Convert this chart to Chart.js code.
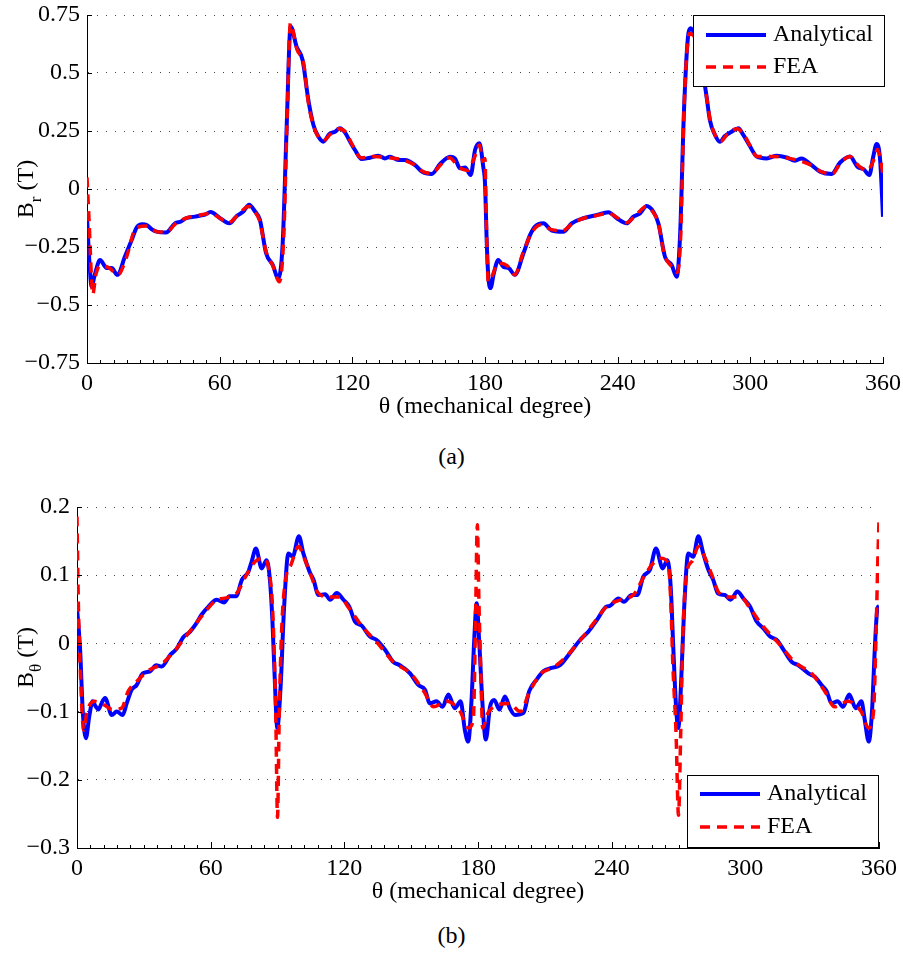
<!DOCTYPE html>
<html>
<head>
<meta charset="utf-8">
<title>Br / Btheta vs theta</title>
<script src="https://cdn.jsdelivr.net/npm/chart.js@4.4.1/dist/chart.umd.min.js"></script>
<style>
  html, body { margin:0; padding:0; background:#fff; }
  body { width:903px; height:957px; position:relative; overflow:hidden; font-family:"Liberation Serif","Times New Roman",serif; }
  canvas { position:absolute; left:0; }
  #chartA { top:0; }
  #chartB { top:480px; }
  .cap { position:absolute; left:0; width:903px; text-align:center; font-size:24px; line-height:28px; color:#000; }
</style>
</head>
<body>
<canvas id="chartA" width="903" height="430"></canvas>
<canvas id="chartB" width="903" height="435"></canvas>
<div class="cap" style="top:442px">(a)</div>
<div class="cap" style="top:921px">(b)</div>
<script>
/* ---- data: [theta (deg), value (T)] ---- */
const thetaTicks = [0, 60, 120, 180, 240, 300, 360];
const thetaMinorStep = 6;
const brTicks = [-0.75, -0.5, -0.25, 0, 0.25, 0.5, 0.75];
const btTicks = [-0.3, -0.2, -0.1, 0, 0.1, 0.2];

const brAnalytical = [
  [0,-0.12],[1,-0.30],[2.1,-0.42],[3.5,-0.37],[5.9,-0.306],[8.9,-0.341],[11.2,-0.341],[13.7,-0.37],
  [17.2,-0.29],[20.2,-0.22],[22.5,-0.165],[25,-0.152],[27,-0.155],[29.5,-0.175],[31.5,-0.184],[35.7,-0.188],
  [39.8,-0.148],[42.5,-0.14],[44.8,-0.126],[48.8,-0.119],[51,-0.115],[53.4,-0.11],[55.9,-0.099],[60.2,-0.126],
  [64.4,-0.148],[67.7,-0.116],[70.7,-0.097],[73.3,-0.068],[76,-0.097],[78.2,-0.133],[81,-0.277],[84,-0.327],
  [86.5,-0.385],[88.5,-0.234],[90.3,0.268],[92.1,0.70],[94.8,0.613],[97.5,0.556],[100.1,0.384],[102.4,0.276],
  [104.6,0.226],[106.9,0.204],[109.6,0.237],[112.2,0.247],[114.4,0.262],[116.7,0.243],[119,0.204],[121.2,0.168],
  [124.2,0.129],[128,0.135],[131.8,0.143],[134.8,0.132],[137,0.139],[140.8,0.125],[143.8,0.125],[148.4,0.103],
  [151.4,0.075],[155.9,0.065],[159.7,0.108],[164.2,0.139],[166.4,0.132],[168.7,0.089],[171,0.093],[173.5,0.06],
  [175.5,0.168],[177.5,0.197],[179.2,0.096],[180,0.025],[180.8,-0.233],[181.5,-0.377],[182.5,-0.427],[184,-0.363],
  [186,-0.306],[188.3,-0.335],[190.8,-0.342],[193.5,-0.37],[197.4,-0.277],[200.4,-0.198],[202.6,-0.162],[206.4,-0.148],
  [210.2,-0.179],[215.4,-0.184],[219.2,-0.148],[224.5,-0.126],[230.5,-0.112],[235.8,-0.10],[239.6,-0.126],[244.1,-0.148],
  [247.1,-0.119],[250.1,-0.105],[253.1,-0.073],[256.1,-0.097],[258.4,-0.148],[261.4,-0.292],[264.4,-0.327],[266.7,-0.378],
  [268.2,-0.205],[270,0.34],[272,0.671],[273,0.693],[275,0.657],[278,0.527],[280,0.412],[281.7,0.297],
  [284,0.233],[286.2,0.204],[288.5,0.228],[291.5,0.247],[294.6,0.262],[296.8,0.233],[299.5,0.19],[302.9,0.14],
  [307.4,0.132],[311.9,0.143],[316.4,0.136],[320.2,0.122],[323.2,0.132],[327,0.108],[331.5,0.075],[336.8,0.065],
  [340.6,0.114],[345.1,0.14],[348.4,0.096],[351.4,0.084],[353.8,0.06],[355.6,0.14],[357.1,0.194],[358.7,0.125],
  [360,-0.12]
];
const brFea = [
  [0,0.05],[1,-0.15],[2,-0.38],[2.6,-0.455],[4,-0.37],[6,-0.33],[10,-0.34],[14,-0.37],[18,-0.29],[22,-0.17],
  [27,-0.16],[32,-0.185],[36,-0.185],[40,-0.15],[45,-0.125],[50,-0.115],[56,-0.105],[60,-0.125],[64,-0.145],
  [68,-0.115],[73,-0.075],[76,-0.1],[78,-0.135],[81,-0.27],[84,-0.33],[87,-0.4],[89,-0.2],[90.5,0.3],[92,0.715],
  [95,0.6],[98,0.54],[100,0.38],[102.5,0.27],[105,0.22],[107,0.21],[110,0.235],[114,0.26],[117,0.245],[120,0.19],
  [124,0.135],[130,0.14],[136,0.135],[142,0.127],[148,0.105],[152,0.075],[156,0.068],[160,0.105],[164,0.135],
  [168,0.095],[172,0.08],[175,0.13],[177.5,0.19],[179,0.12],[180,0.132],[180.5,-0.1],[181.5,-0.4],[183,-0.38],
  [186,-0.32],[190,-0.33],[193.5,-0.37],[197,-0.28],[201,-0.19],[205,-0.155],[210,-0.175],[215,-0.18],[220,-0.145],
  [225,-0.125],[230,-0.115],[236,-0.105],[240,-0.125],[244,-0.145],[248,-0.115],[253,-0.075],[256,-0.1],[258.5,-0.15],
  [261,-0.28],[264,-0.33],[267,-0.36],[268.5,-0.2],[270,0.34],[272.5,0.67],[275,0.65],[278,0.52],[280,0.41],
  [282,0.29],[284,0.235],[286.5,0.205],[290,0.24],[294,0.26],[297,0.235],[300,0.185],[303,0.14],[310,0.14],
  [316,0.135],[321,0.125],[327,0.105],[332,0.075],[337,0.065],[341,0.115],[345,0.14],[349,0.1],[353,0.08],
  [356,0.13],[357.5,0.17],[359,0.12],[360,0.06]
];

const btAnalytical = [
  [0,0.052],[1.4,-0.009],[2.6,-0.10],[4,-0.139],[5.5,-0.107],[7,-0.085],[8.3,-0.092],[9.6,-0.097],[11,-0.088],
  [12.6,-0.08],[15.6,-0.105],[17.8,-0.10],[20.5,-0.105],[22.3,-0.088],[24.5,-0.068],[26.8,-0.061],[29.5,-0.044],
  [32.8,-0.041],[35.5,-0.032],[38,-0.034],[41.8,-0.017],[44.7,-0.008],[47.7,0.009],[50.7,0.017],[53.7,0.03],
  [55.9,0.042],[59,0.054],[62.7,0.064],[66,0.06],[68.4,0.069],[71.4,0.069],[74,0.093],[76.9,0.105],[78.4,0.12],
  [80.3,0.139],[82.9,0.11],[85.1,0.122],[86.6,0.093],[87.7,0.035],[88.9,-0.063],[89.9,-0.124],[91.4,-0.063],
  [92.9,0.049],[94.9,0.132],[96.8,0.127],[99.6,0.157],[101.6,0.132],[104.4,0.105],[106.2,0.093],[108.4,0.071],
  [111.4,0.072],[113.6,0.064],[116.6,0.074],[119.6,0.064],[122.2,0.054],[124.8,0.032],[127.8,0.026],[131.5,0.01],
  [134.5,0.005],[138.2,-0.009],[141.9,-0.027],[144.9,-0.032],[149.5,-0.044],[153.2,-0.061],[156.2,-0.068],
  [158.4,-0.088],[161.4,-0.085],[164.1,-0.093],[166.7,-0.075],[169.6,-0.095],[172.2,-0.085],[174.1,-0.127],
  [175.6,-0.144],[177.1,-0.083],[178.3,0.005],[179.4,0.059],[180.5,0.005],[182.1,-0.093],[183.5,-0.141],
  [185.4,-0.093],[187.3,-0.083],[189.6,-0.097],[192.1,-0.078],[194.3,-0.095],[196.6,-0.105],[200.4,-0.102],
  [203,-0.07],[206.3,-0.053],[209.3,-0.041],[213,-0.036],[216.8,-0.032],[221.3,-0.014],[225.8,0.005],[229.5,0.017],
  [233.3,0.034],[237.7,0.054],[239.2,0.055],[243,0.066],[245.5,0.061],[249,0.071],[251.5,0.071],[254.2,0.098],
  [257.2,0.108],[259.9,0.139],[262.9,0.11],[265,0.122],[266.5,0.083],[267.7,-0.009],[268.9,-0.093],[269.9,-0.124],
  [271.1,-0.063],[272.5,0.049],[274.4,0.132],[276.6,0.127],[278.9,0.157],[281.1,0.132],[283.4,0.108],[285.6,0.093],
  [287.8,0.073],[290.8,0.071],[293.4,0.064],[296.4,0.076],[299.1,0.066],[302.1,0.054],[305.1,0.032],[308.1,0.022],
  [311.1,0.01],[314.1,0.005],[317.1,-0.009],[320.8,-0.027],[323.8,-0.032],[328.3,-0.044],[331.2,-0.049],
  [334.2,-0.061],[336.5,-0.07],[338.7,-0.088],[341.4,-0.085],[343.9,-0.093],[346.6,-0.075],[349.6,-0.095],
  [352.1,-0.085],[353.6,-0.112],[355.4,-0.144],[356.9,-0.097],[358.1,-0.009],[359.3,0.052],[360,0.055]
];
const btFea = [
  [0,0.186],[0.6,0.06],[1.5,-0.04],[3,-0.127],[4.5,-0.10],[8,-0.085],[12,-0.09],[16,-0.097],[20,-0.095],
  [23,-0.07],[27,-0.055],[32,-0.04],[38,-0.03],[44,-0.01],[50,0.015],[56,0.04],[62,0.062],[68,0.068],[72,0.075],
  [76,0.1],[80,0.12],[84,0.125],[86.5,0.1],[87.8,0.05],[89.2,-0.10],[90,-0.255],[90.8,-0.10],[92,0.03],[94,0.10],
  [96,0.115],[99.5,0.142],[102,0.125],[105,0.1],[108,0.075],[113,0.068],[118,0.068],[122,0.052],[128,0.025],
  [135,0.0],[142,-0.027],[150,-0.045],[156,-0.072],[160,-0.093],[166,-0.085],[172,-0.1],[175.6,-0.124],
  [177.9,-0.112],[178.8,0.015],[179.7,0.174],[180.4,0.064],[181.2,-0.034],[182.1,-0.124],[184.5,-0.102],
  [189,-0.09],[194,-0.088],[199,-0.1],[203,-0.072],[208,-0.045],[214,-0.035],[220,-0.018],[226,0.005],[232,0.03],
  [238,0.055],[244,0.064],[250,0.072],[254,0.095],[258,0.115],[262,0.125],[265.4,0.117],[266.5,0.064],
  [267.5,-0.034],[268.9,-0.132],[270,-0.252],[271,-0.13],[272,0.015],[274,0.108],[276,0.12],[279,0.142],
  [282,0.125],[285,0.1],[288,0.075],[293,0.068],[298,0.068],[302,0.052],[308,0.025],[315,0.0],[322,-0.027],
  [330,-0.045],[336,-0.072],[340,-0.093],[346,-0.085],[352,-0.1],[355.3,-0.124],[357.5,-0.102],[358.7,0.015],
  [359.4,0.113],[360,0.181]
];

/* ---- look ---- */
const FONT = '"Liberation Serif", "Times New Roman", serif';
Chart.defaults.font.family = FONT;
Chart.defaults.font.size = 24;
Chart.defaults.color = '#000';

const toPts = arr => arr.map(p => ({ x: p[0], y: p[1] }));
const fmt = v => v === 0 ? '0' : (v < 0 ? '\u2212' : '') + String(Math.abs(v));

// inward MATLAB style ticks (major + minor on x, major on y)
const inTicks = {
  id: 'inTicks',
  afterDraw(chart) {
    const { ctx, chartArea: ca, scales: { x, y } } = chart;
    ctx.save();
    ctx.strokeStyle = '#000'; ctx.lineWidth = 1;
    ctx.beginPath();
    for (let v = 0; v <= 360; v += thetaMinorStep) {
      const px = Math.round(x.getPixelForValue(v)) + 0.5;
      const len = thetaTicks.includes(v) ? 6 : 3;
      ctx.moveTo(px, ca.bottom); ctx.lineTo(px, ca.bottom - len);
    }
    y.ticks.forEach(t => {
      const py = Math.round(y.getPixelForValue(t.value)) + 0.5;
      ctx.moveTo(ca.left, py); ctx.lineTo(ca.left + 5, py);
    });
    ctx.stroke();
    ctx.restore();
  }
};

// boxed legend inside the plot
const boxLegend = {
  id: 'boxLegend',
  afterDraw(chart, args, o) {
    const { ctx, chartArea: ca } = chart;
    const w = o.w, h = o.h;
    const x0 = ca.right + o.dx - w;
    const y0 = o.bottom ? ca.bottom - h : ca.top;
    ctx.save();
    ctx.fillStyle = '#fff';
    ctx.fillRect(x0, y0, w, h);
    ctx.strokeStyle = '#000'; ctx.lineWidth = 1;
    ctx.strokeRect(x0 + 0.5, y0 + 0.5, w - 1, h - 1);
    chart.data.datasets.forEach((ds, i) => {
      const yy = y0 + o.rows[i];
      ctx.beginPath();
      ctx.setLineDash(ds.borderDash || []);
      ctx.strokeStyle = ds.borderColor; ctx.lineWidth = ds.borderWidth;
      ctx.moveTo(x0 + 13, yy); ctx.lineTo(x0 + 73, yy);
      ctx.stroke();
      ctx.setLineDash([]);
      ctx.fillStyle = '#000';
      ctx.font = '24px ' + FONT;
      ctx.textBaseline = 'middle';
      ctx.fillText(ds.label, x0 + 80, yy);
    });
    ctx.restore();
  }
};

// rotated y title with a subscript
const yTitle = {
  id: 'yTitle',
  afterDraw(chart, args, o) {
    const { ctx, chartArea: ca } = chart;
    const big = '24px ' + FONT, small = '17px ' + FONT;
    ctx.save();
    ctx.font = big;
    const wB = ctx.measureText('B').width, wT = ctx.measureText(' (T)').width;
    ctx.font = small;
    const wS = ctx.measureText(o.sub).width;
    const cy = (ca.top + ca.bottom) / 2 + o.shift;
    ctx.translate(o.x, cy);
    ctx.rotate(-Math.PI / 2);
    ctx.fillStyle = '#000';
    ctx.textBaseline = 'alphabetic'; ctx.textAlign = 'left';
    let x = -(wB + wS + wT) / 2;
    ctx.font = big; ctx.fillText('B', x, 0); x += wB;
    ctx.font = small; ctx.fillText(o.sub, x, 8); x += wS;
    ctx.font = big; ctx.fillText(' (T)', x, 0);
    ctx.restore();
  }
};

function fixBox(w, h) {
  return s => {
    if (w != null) s.width = w;
    if (h != null) s.height = h;
    s.paddingLeft = s.paddingRight = s.paddingTop = s.paddingBottom = 0;
  };
}

function makeChart(id, ana, fea, yTicks, opt) {
  return new Chart(document.getElementById(id), {
    type: 'line',
    data: {
      datasets: [
        { label: 'Analytical', data: toPts(ana), borderColor: '#0000ff', borderWidth: 4,
          pointRadius: 0, cubicInterpolationMode: 'monotone', order: 1 },
        { label: 'FEA', data: toPts(fea), borderColor: '#ff0000', borderWidth: 3.5, borderDash: [10, 7],
          pointRadius: 0, cubicInterpolationMode: 'monotone', order: 0 }
      ]
    },
    options: {
      responsive: false, animation: false, devicePixelRatio: 1,
      layout: { padding: opt.padding },
      plugins: {
        legend: { display: false }, tooltip: { enabled: false },
        boxLegend: opt.legend,
        yTitle: { x: 33, sub: opt.sub, shift: opt.labelShift }
      },
      scales: {
        x: {
          type: 'linear', min: 0, max: 360,
          afterBuildTicks: s => { s.ticks = thetaTicks.map(v => ({ value: v })); },
          afterFit: fixBox(null, opt.xH),
          grid: { display: false },
          border: { display: true, color: '#000', width: 1 },
          ticks: { padding: -2, maxRotation: 0, autoSkip: false, font: { size: 24 } },
          title: { display: true, text: '\u03b8 (mechanical degree)', font: { size: 24 }, padding: { top: 0, bottom: 9 } }
        },
        y: {
          min: yTicks[0], max: yTicks[yTicks.length - 1],
          afterBuildTicks: s => { s.ticks = yTicks.map(v => ({ value: v })); },
          afterFit: fixBox(opt.yW, null),
          grid: { color: '#444', lineWidth: 1, drawTicks: false },
          border: { display: true, color: '#000', width: 1, dash: [1, 8] },
          ticks: { padding: 7, callback: v => fmt(v), font: { size: 24 } }
        }
      }
    },
    plugins: [inTicks, boxLegend, yTitle]
  });
}

makeChart('chartA', brAnalytical, brFea, brTicks, {
  padding: { left: 0, top: 15, right: 20, bottom: 0 }, yW: 87, xH: 67,
  sub: 'r', labelShift: 0,
  legend: { w: 192, h: 72, dx: 2, bottom: false, rows: [20, 52] }
});

makeChart('chartB', btAnalytical, btFea, btTicks, {
  padding: { left: 0, top: 27, right: 24, bottom: 0 }, yW: 77, xH: 67,
  sub: '\u03b8', labelShift: -20,
  legend: { w: 192, h: 73, dx: 0, bottom: true, rows: [19, 52] }
});
</script>
</body>
</html>
